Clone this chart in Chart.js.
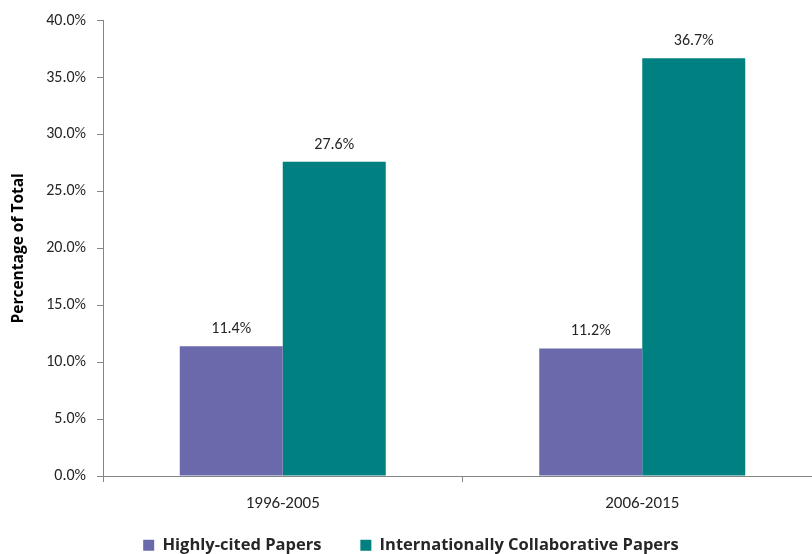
<!DOCTYPE html>
<html>
<head>
<meta charset="utf-8">
<script src="https://cdn.jsdelivr.net/npm/chart.js@4.4.1/dist/chart.umd.min.js"></script>
<style>
  html, body { margin: 0; padding: 0; background: #fff; }
  /* plot runs slightly past the right edge, as in the original */
  #wrap { width: 812px; height: 554px; position: relative; overflow: hidden; }
</style>
</head>
<body>
<div id="wrap"><canvas id="chart" width="822" height="554"></canvas></div>
<script>
const PERIODS = ["1996-2005", "2006-2015"];
const HIGHLY_CITED = [11.4, 11.2];
const INTL_COLLAB = [27.6, 36.7];
const SERIES_NAMES = ["Highly-cited Papers", "Internationally Collaborative Papers"];

const PURPLE = "#6969ab";
const TEAL = "#008080";
const AXIS = "#868686";
const TEXT = "#262626";
const FONT = "Carlito, Calibri, Lato, 'Open Sans', sans-serif";
const BOLD_FONT = "'Open Sans', Lato, sans-serif";

// value labels above each bar
const barLabels = {
  id: "barLabels",
  afterDatasetsDraw(chart) {
    const ctx = chart.ctx;
    ctx.save();
    ctx.font = "16px " + FONT;
    ctx.fillStyle = TEXT;
    ctx.textAlign = "center";
    ctx.textBaseline = "alphabetic";
    chart.data.datasets.forEach((ds, i) => {
      chart.getDatasetMeta(i).data.forEach((bar, j) => {
        ctx.fillText(ds.data[j].toFixed(1) + "%", bar.x, bar.y - 13);
      });
    });
    ctx.restore();
  },
};

// legend keeps wide item spacing but starts a bit higher (box grows upward)
const nudgeLegend = {
  id: "nudgeLegend",
  afterLayout(chart) {
    chart.legend.top -= 16;
  },
};

new Chart(document.getElementById("chart").getContext("2d"), {
  type: "bar",
  data: {
    labels: PERIODS,
    datasets: [
      { label: SERIES_NAMES[0], data: HIGHLY_CITED, backgroundColor: PURPLE },
      { label: SERIES_NAMES[1], data: INTL_COLLAB, backgroundColor: TEAL },
    ],
  },
  options: {
    responsive: false, animation: false,
    categoryPercentage: 0.573, barPercentage: 1,
    layout: { padding: { top: 12, right: 0, left: 0, bottom: 0 } },
    plugins: {
      tooltip: { enabled: false },
      legend: {
        position: "bottom",
        maxHeight: 40,
        labels: {
          color: TEXT, boxWidth: 11, boxHeight: 11, padding: 39,
          font: { family: BOLD_FONT, size: 16.5, weight: "bold" },
        },
      },
    },
    scales: {
      x: {
        grid: { display: true, offset: true, drawOnChartArea: false, drawTicks: true, tickLength: 6, color: AXIS },
        border: { display: true, color: AXIS },
        ticks: { color: TEXT, font: { family: FONT, size: 17 }, padding: 12 },
        afterFit: (s) => { s.height = 38; },
      },
      y: {
        min: 0, max: 40,
        grid: { display: true, drawOnChartArea: false, drawTicks: true, tickLength: 6, color: AXIS },
        border: { display: true, color: AXIS },
        ticks: { stepSize: 5, color: TEXT, font: { family: FONT, size: 16 }, padding: 11,
                 callback: (v) => v.toFixed(1) + "%" },
        title: { display: true, text: "Percentage of Total", color: "#000",
                 font: { family: BOLD_FONT, size: 15.5, weight: "bold" }, padding: { top: 9, bottom: 0 } },
        afterFit: (s) => { s.width = 103; },
      },
    },
  },
  plugins: [barLabels, nudgeLegend],
});
</script>
</body>
</html>
